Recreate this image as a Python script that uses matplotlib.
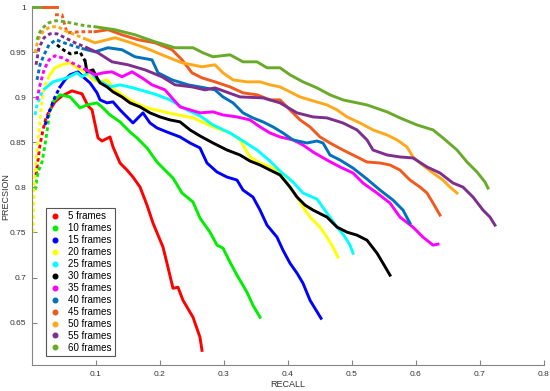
"""
precision / recall curves for different frame counts
"""
import numpy as np
import matplotlib
matplotlib.use("Agg")
import matplotlib.pyplot as plt
from matplotlib.lines import Line2D

labels = ["5 frames", "10 frames", "15 frames", "20 frames", "25 frames", "30 frames",
          "35 frames", "40 frames", "45 frames", "50 frames", "55 frames", "60 frames"]

colors = ["#ff0000", "#00ee00", "#0000ff", "#ffff00", "#00ffff", "#000000",
          "#ff00ff", "#0072bd", "#f05a1e", "#ffa81a", "#7e2f8e", "#6aaa2a"]

# recall / precision
rec_5 = [0.0063, 0.0094, 0.0125, 0.0172, 0.0219, 0.0281, 0.0359, 0.0469, 0.0625, 0.0781,
         0.0875, 0.0938, 0.1031, 0.1094, 0.1219, 0.1266, 0.1375, 0.1484, 0.1578, 0.1688,
         0.1797, 0.1891, 0.2047, 0.2109, 0.2203, 0.2281, 0.2359, 0.2516, 0.2625, 0.2656]
pre_5 = [0.8137, 0.8303, 0.847, 0.8637, 0.877, 0.8859, 0.8948, 0.9014, 0.907, 0.9037,
         0.8903, 0.8859, 0.8548, 0.8514, 0.8559, 0.8448, 0.827, 0.8192, 0.8114, 0.8003,
         0.7803, 0.7603, 0.7337, 0.7159, 0.6881, 0.6892, 0.6748, 0.6559, 0.6337, 0.6192]

rec_10 = [0.0047, 0.0094, 0.0156, 0.0203, 0.0234, 0.0266, 0.0328, 0.0438, 0.0594, 0.075,
          0.0859, 0.1016, 0.1109, 0.1219, 0.1375, 0.1531, 0.1641, 0.1797, 0.1953, 0.2047,
          0.2203, 0.2344, 0.2516, 0.2625, 0.2781, 0.2891, 0.2984, 0.3094, 0.3203, 0.3359,
          0.3453, 0.3563]
pre_10 = [0.797, 0.817, 0.8281, 0.847, 0.8614, 0.8803, 0.8948, 0.9026, 0.9003, 0.8881,
          0.8914, 0.8937, 0.8881, 0.8803, 0.8726, 0.8614, 0.8548, 0.8437, 0.8281, 0.8214,
          0.8103, 0.7937, 0.7837, 0.7659, 0.7503, 0.7359, 0.7326, 0.717, 0.7026, 0.6837,
          0.6692, 0.6559]

rec_15 = [0.0203, 0.0281, 0.0359, 0.0438, 0.0516, 0.0594, 0.0719, 0.0797, 0.0906, 0.1016,
          0.1063, 0.1172, 0.1266, 0.1375, 0.1484, 0.1578, 0.1734, 0.1844, 0.1953, 0.2109,
          0.2313, 0.2469, 0.2625, 0.2734, 0.2891, 0.3047, 0.3203, 0.3297, 0.3453, 0.3563,
          0.3672, 0.3828, 0.3922, 0.4031, 0.4141, 0.4234, 0.4344, 0.4516]
pre_15 = [0.8692, 0.8859, 0.9003, 0.9114, 0.9192, 0.9248, 0.9281, 0.9226, 0.9159, 0.9048,
          0.897, 0.8937, 0.8948, 0.8859, 0.8781, 0.8714, 0.8826, 0.8714, 0.8659, 0.8614,
          0.8559, 0.8492, 0.8437, 0.827, 0.817, 0.8114, 0.8081, 0.797, 0.7892, 0.7748,
          0.7581, 0.7448, 0.7303, 0.7159, 0.7048, 0.6937, 0.6748, 0.6548]

rec_20 = [0.0016, 0.0031, 0.0063, 0.0094, 0.0125, 0.0156, 0.0203, 0.0281, 0.0359, 0.0469,
          0.0594, 0.0703, 0.0828, 0.0953, 0.1063, 0.1172, 0.1297, 0.1453, 0.1609, 0.1797,
          0.2, 0.2203, 0.2359, 0.2516, 0.2828, 0.3094, 0.325, 0.3406, 0.3563, 0.3719,
          0.3875, 0.4031, 0.4141, 0.4234, 0.4344, 0.45, 0.4609, 0.4703, 0.4781]
pre_20 = [0.75, 0.8003, 0.8303, 0.8526, 0.8748, 0.897, 0.9137, 0.9248, 0.9326, 0.9359,
          0.9381, 0.9326, 0.9281, 0.9192, 0.917, 0.9192, 0.9081, 0.9003, 0.8937, 0.8881,
          0.8848, 0.8814, 0.8792, 0.877, 0.867, 0.8603, 0.8526, 0.8337, 0.827, 0.8226,
          0.8159, 0.8003, 0.7892, 0.7781, 0.767, 0.7559, 0.7448, 0.7337, 0.7226]

rec_25 = [0.0047, 0.0078, 0.0125, 0.0172, 0.0234, 0.0328, 0.0438, 0.0547, 0.0703, 0.0781,
          0.0906, 0.1016, 0.1109, 0.1219, 0.1375, 0.1578, 0.1797, 0.1953, 0.2156, 0.2422,
          0.2625, 0.2828, 0.3094, 0.3297, 0.3516, 0.3719, 0.3875, 0.4078, 0.4234, 0.4453,
          0.4609, 0.4766, 0.4859, 0.4922, 0.4969, 0.5016]
pre_25 = [0.8803, 0.8914, 0.9003, 0.9081, 0.9114, 0.917, 0.9192, 0.9214, 0.927, 0.9226,
          0.9281, 0.9192, 0.9159, 0.9114, 0.9137, 0.9103, 0.9059, 0.9026, 0.897, 0.8859,
          0.8792, 0.8692, 0.8603, 0.8514, 0.8414, 0.8292, 0.8181, 0.8059, 0.7937, 0.787,
          0.7714, 0.7559, 0.7481, 0.7414, 0.7359, 0.727]

rec_30 = [0.039, 0.05, 0.06, 0.075, 0.083, 0.0859, 0.0953, 0.1016, 0.1063, 0.1172,
          0.1266, 0.1406, 0.1531, 0.1688, 0.1844, 0.2, 0.2156, 0.2313, 0.2469, 0.2625,
          0.2828, 0.3047, 0.325, 0.3406, 0.3563, 0.3719, 0.3875, 0.4031, 0.4141, 0.4266,
          0.4391, 0.4609, 0.4766, 0.4922, 0.5078, 0.5234, 0.5391, 0.5484, 0.5594]
pre_30 = [0.958, 0.952, 0.948, 0.95, 0.94, 0.9281, 0.9303, 0.9214, 0.9159, 0.9114,
          0.9059, 0.9003, 0.8937, 0.8892, 0.8826, 0.8781, 0.8748, 0.8726, 0.8637, 0.857,
          0.8492, 0.8414, 0.8359, 0.8292, 0.8248, 0.8192, 0.8137, 0.8003, 0.7892, 0.7803,
          0.7748, 0.767, 0.7559, 0.7503, 0.747, 0.7414, 0.727, 0.7159, 0.7026]

rec_35 = [0.0078, 0.0125, 0.0188, 0.0266, 0.0359, 0.0469, 0.0594, 0.0719, 0.0844, 0.0984,
          0.1109, 0.125, 0.1406, 0.1563, 0.1719, 0.1875, 0.2078, 0.2188, 0.2313, 0.2469,
          0.2625, 0.2828, 0.2984, 0.3203, 0.3406, 0.3563, 0.3719, 0.3875, 0.4078, 0.4234,
          0.4391, 0.4609, 0.4813, 0.5016, 0.5172, 0.5391, 0.5594, 0.575, 0.5953, 0.6109,
          0.6266, 0.6344]
pre_35 = [0.897, 0.9137, 0.9303, 0.9414, 0.9459, 0.9437, 0.9392, 0.9348, 0.9303, 0.9248,
          0.927, 0.9281, 0.9226, 0.9281, 0.9214, 0.9137, 0.9081, 0.8992, 0.8892, 0.8859,
          0.8826, 0.8837, 0.8803, 0.8781, 0.8748, 0.867, 0.8603, 0.8559, 0.8526, 0.847,
          0.8392, 0.8303, 0.8226, 0.8159, 0.8048, 0.7937, 0.7826, 0.767, 0.7559, 0.7448,
          0.7359, 0.737]

rec_40 = [0.0078, 0.0125, 0.0188, 0.0266, 0.0375, 0.05, 0.0641, 0.0797, 0.0984, 0.1188,
          0.1406, 0.1609, 0.1875, 0.1969, 0.2188, 0.2438, 0.2703, 0.2859, 0.2984, 0.3141,
          0.3297, 0.3453, 0.3609, 0.3766, 0.3922, 0.4078, 0.4297, 0.4453, 0.4547, 0.4656,
          0.4813, 0.5016, 0.5234, 0.5438, 0.5641, 0.5797, 0.5906]
pre_40 = [0.9192, 0.9359, 0.947, 0.9581, 0.9637, 0.9603, 0.957, 0.9537, 0.9503, 0.9548,
          0.9526, 0.9448, 0.9414, 0.927, 0.9192, 0.9137, 0.9103, 0.9081, 0.9003, 0.8937,
          0.8826, 0.877, 0.8726, 0.867, 0.8603, 0.8526, 0.8492, 0.8514, 0.8492, 0.8359,
          0.8303, 0.8214, 0.8092, 0.797, 0.7859, 0.7748, 0.7603]

rec_45 = [0.036, 0.0469, 0.0547, 0.075, 0.0984, 0.1188, 0.1406, 0.1656, 0.1922, 0.2188,
          0.2344, 0.25, 0.2656, 0.2859, 0.3094, 0.3297, 0.3516, 0.3719, 0.3875, 0.4031,
          0.4188, 0.4344, 0.45, 0.4656, 0.4859, 0.5078, 0.5234, 0.5438, 0.5594, 0.575,
          0.5906, 0.6063, 0.6172, 0.6266, 0.6375]
pre_45 = [0.9914, 0.9914, 0.9714, 0.9726, 0.9726, 0.9748, 0.9692, 0.9637, 0.9603, 0.9526,
          0.9414, 0.927, 0.9214, 0.917, 0.9114, 0.9048, 0.9026, 0.897, 0.897, 0.8859,
          0.8748, 0.867, 0.8559, 0.8492, 0.8414, 0.8337, 0.8281, 0.827, 0.8248, 0.8192,
          0.8081, 0.8003, 0.7937, 0.7826, 0.7692]

rec_50 = [0.0047, 0.0094, 0.0172, 0.0281, 0.0406, 0.0516, 0.0672, 0.0828, 0.0984, 0.1297,
          0.15, 0.1766, 0.2031, 0.2344, 0.2656, 0.2859, 0.2984, 0.3141, 0.3359, 0.3563,
          0.3719, 0.3875, 0.4031, 0.4188, 0.4391, 0.4609, 0.4766, 0.4922, 0.5125, 0.5328,
          0.5547, 0.5703, 0.5859, 0.5953, 0.6063, 0.6266, 0.6422, 0.6531, 0.6641]
pre_50 = [0.9492, 0.9637, 0.9726, 0.9781, 0.9781, 0.9737, 0.9692, 0.9648, 0.9603, 0.9659,
          0.9614, 0.9548, 0.947, 0.9381, 0.9337, 0.9359, 0.927, 0.9192, 0.917, 0.917,
          0.9137, 0.9114, 0.9059, 0.9003, 0.8959, 0.8914, 0.8859, 0.8781, 0.8714, 0.8637,
          0.8581, 0.8526, 0.8448, 0.8337, 0.827, 0.8159, 0.8081, 0.8003, 0.7937]

rec_55 = [0.0063, 0.0109, 0.0188, 0.0281, 0.0391, 0.0516, 0.0672, 0.0859, 0.1031, 0.125,
          0.15, 0.1766, 0.2031, 0.2234, 0.25, 0.2703, 0.2859, 0.325, 0.3609, 0.3875,
          0.4141, 0.4391, 0.4609, 0.4859, 0.5078, 0.5234, 0.5328, 0.5547, 0.575, 0.5953,
          0.6172, 0.6375, 0.6578, 0.6734, 0.6891, 0.7047, 0.7156, 0.7234]
pre_55 = [0.9359, 0.9548, 0.9659, 0.9703, 0.9703, 0.9659, 0.9603, 0.9548, 0.9492, 0.9392,
          0.9359, 0.9303, 0.9226, 0.9137, 0.9114, 0.9081, 0.9103, 0.9003, 0.8992, 0.8937,
          0.8826, 0.8781, 0.877, 0.8714, 0.8637, 0.8526, 0.8414, 0.8359, 0.8337, 0.8326,
          0.8226, 0.8159, 0.8048, 0.8003, 0.7892, 0.7748, 0.767, 0.7581]

rec_60 = [0.0078, 0.0125, 0.0188, 0.0266, 0.0375, 0.0516, 0.0672, 0.0828, 0.0984, 0.1297,
          0.1609, 0.1922, 0.2234, 0.2516, 0.2672, 0.2828, 0.3094, 0.3297, 0.3516, 0.3672,
          0.3875, 0.4031, 0.4234, 0.4453, 0.4656, 0.4859, 0.5234, 0.5547, 0.575, 0.6016,
          0.6266, 0.6422, 0.6641, 0.6797, 0.6953, 0.7078, 0.7125]
pre_60 = [0.9637, 0.9726, 0.9781, 0.9826, 0.9848, 0.9837, 0.9814, 0.9792, 0.9781, 0.9748,
          0.9692, 0.9614, 0.9548, 0.9548, 0.9492, 0.9448, 0.947, 0.9392, 0.9392, 0.9326,
          0.9326, 0.9248, 0.917, 0.9103, 0.9026, 0.897, 0.8914, 0.8837, 0.877, 0.8692,
          0.8637, 0.8548, 0.8414, 0.8281, 0.817, 0.8059, 0.7992]

# runs at precision 1 at the very start (60 and 45 frames)
top_rec_60 = [0.0016, 0.0172]
top_rec_45 = [0.0172, 0.0391]
top_pre = [1.0, 1.0]

recalls = [rec_5, rec_10, rec_15, rec_20, rec_25, rec_30,
           rec_35, rec_40, rec_45, rec_50, rec_55, rec_60]
precisions = [pre_5, pre_10, pre_15, pre_20, pre_25, pre_30,
              pre_35, pre_40, pre_45, pre_50, pre_55, pre_60]

# how many leading points are sparse (drawn broken)
sparse = [5, 6, 3, 7, 4, 4, 8, 7, 4, 7, 7, 8]

plt.rcParams["font.family"] = ["Liberation Sans", "DejaVu Sans"]

fig = plt.figure(figsize=(5.5, 3.91), dpi=100)
ax = fig.add_axes([32 / 550, 26 / 391, 512 / 550, 358 / 391])

for r, p, c, k in zip(recalls, precisions, colors, sparse):
    ax.plot(r[:k + 1], p[:k + 1], color=c, lw=2.1, ls=(0, (1.3, 1.0)),
            solid_capstyle="butt")
    ax.plot(r[k:], p[k:], color=c, lw=2.1, solid_joinstyle="round")

ax.plot(top_rec_60, top_pre, color=colors[11], lw=2.1, clip_on=False)
ax.plot(top_rec_45, top_pre, color=colors[8], lw=2.1, clip_on=False)

ax.set_xlim(0, 0.8)
ax.set_ylim(0.603, 1.0)
ax.set_xticks([0.1, 0.2, 0.3, 0.4, 0.5, 0.6, 0.7, 0.8])
ax.set_xticklabels(["0.1", "0.2", "0.3", "0.4", "0.5", "0.6", "0.7", "0.8"])
ax.set_yticks([0.65, 0.7, 0.75, 0.8, 0.85, 0.9, 0.95, 1.0])
ax.set_yticklabels(["0.65", "0.7", "0.75", "0.8", "0.85", "0.9", "0.95", "1"])

for s in ["top", "right"]:
    ax.spines[s].set_visible(False)
for s in ["left", "bottom"]:
    ax.spines[s].set_color("#858585")
    ax.spines[s].set_linewidth(0.8)
ax.tick_params(direction="in", length=3.5, width=0.8, color="#858585",
               labelsize=6, labelcolor="#333333", pad=4)

ax.set_xlabel("RECALL", fontsize=6.5, color="#333333", labelpad=2)
ax.set_ylabel("PRECSION", fontsize=6.5, color="#333333")
ax.yaxis.set_label_coords(-0.043, 0.47)

handles = [Line2D([], [], ls="none", marker="o", ms=3.3, color=c) for c in colors]
leg = ax.legend(handles, labels, loc="upper left", bbox_to_anchor=(0.027, 0.4385),
                borderaxespad=0, fontsize=7, fancybox=False, framealpha=1,
                edgecolor="#555555", labelspacing=0.2, handlelength=1.2,
                handletextpad=0.7, borderpad=0.35)
leg.get_frame().set_linewidth(0.8)

fig.savefig("out.png", dpi=100)
